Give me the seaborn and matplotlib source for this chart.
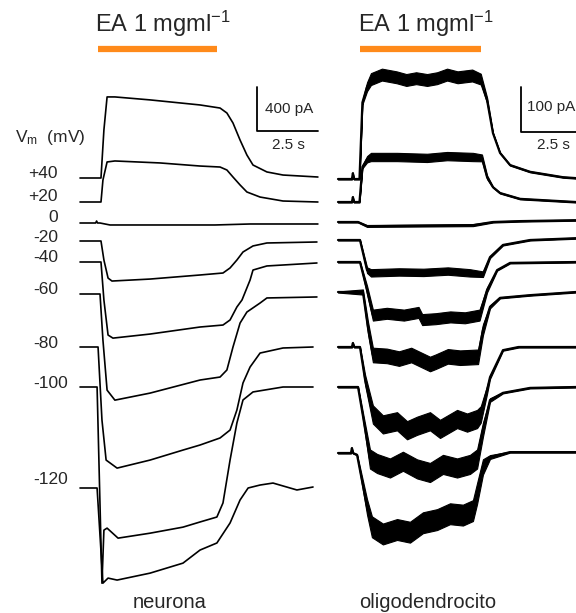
import numpy as np
import pandas as pd
import matplotlib
matplotlib.use('Agg')
import matplotlib.pyplot as plt
import seaborn as sns

# holding potentials of the step protocol
voltages = ['+40', '+20', '0', '-20', '-40', '-60', '-80', '-100', '-120']

# neurona: time (s) from trace start, current (pA) relative to holding level
n_p40_t = [0, 0.86, 0.98, 1.11, 1.43, 2.87, 4.92, 5.74, 6.02, 6.27, 6.56, 6.84, 7.09, 7.66, 8.32, 9.75]
n_p40_i = [0, 0, 437, 737, 737, 710, 664, 636, 591, 500, 345, 209, 118, 55, 27, 9]
n_p20_t = [0, 0.86, 0.94, 1.11, 1.43, 3.28, 4.92, 5.74, 6.02, 6.27, 6.56, 6.84, 7.38, 8.32, 9.75]
n_p20_i = [0, 0, 200, 364, 373, 355, 327, 318, 291, 227, 155, 91, 45, 9, 0]
n_0_t = [0, 0.64, 0.68, 0.72, 0.82, 1.23, 5.53, 6.97, 9.75]
n_0_i = [0, 0, 18, 0, 0, -18, -18, -9, -9]
n_m20_t = [0, 0.86, 0.98, 1.15, 1.31, 2.87, 4.92, 5.86, 6.15, 6.43, 6.68, 7.09, 7.66, 9.71]
n_m20_i = [0, 0, -173, -337, -364, -346, -309, -291, -245, -173, -100, -45, -18, -9]
n_m40_t = [0, 0.86, 0.98, 1.15, 1.35, 2.87, 4.92, 5.86, 6.15, 6.43, 6.64, 6.97, 7.09, 7.66, 9.71]
n_m40_i = [0, 0, -346, -664, -692, -655, -591, -573, -527, -409, -345, -164, -73, -36, -9]
n_m60_t = [0, 0.82, 0.94, 1.11, 1.43, 2.87, 4.92, 5.74, 6.02, 6.27, 6.56, 6.84, 7.38, 7.66, 9.71]
n_m60_i = [0, 0, -419, -874, -965, -901, -782, -755, -691, -482, -264, -164, -82, -36, -27]
n_m80_t = [0, 0.74, 0.90, 1.07, 1.52, 2.87, 4.22, 4.92, 5.74, 6.15, 6.43, 6.68, 6.97, 7.38, 8.32, 9.55]
n_m80_i = [0, 0, -664, -1028, -1101, -1028, -937, -891, -827, -755, -573, -327, -182, -55, -9, 0]
n_m100_t = [0, 0.70, 0.90, 0.98, 1.11, 1.56, 2.87, 4.22, 4.92, 5.61, 5.86, 6.15, 6.43, 6.68, 7.09, 8.32, 9.55]
n_m100_i = [0, 0, -1784, -1301, -1283, -1374, -1329, -1274, -1227, -1182, -1054, -664, -327, -118, -45, 0, 0]
n_m120_t = [0, 0.70, 0.94, 1.15, 1.52, 2.87, 4.22, 4.92, 5.61, 6.15, 6.56, 6.89, 7.38, 7.91, 8.89, 9.55]
n_m120_i = [0, 0, -865, -819, -837, -774, -683, -564, -500, -318, -109, 0, 27, 45, -18, 9]

# oligodendrocito (mean of the noisy trace)
o_p40_t = [0, 0.57, 0.61, 0.65, 0.88, 1.0, 1.19, 1.35, 1.80, 2.40, 2.80, 3.20, 3.65,
           4.06, 4.47, 4.90, 5.50, 5.85, 6.11, 6.35, 6.64, 7.05, 7.87, 9.22, 9.75]
o_p40_i = [0, 0, 13, 0, 0, 170, 205, 222, 232, 226, 220, 224, 220,
           224, 232, 226, 230, 222, 175, 102, 58, 31, 16, 4, 2]
o_p20_t = [0, 0.57, 0.61, 0.65, 0.88, 1.0, 1.19, 1.35, 2.42, 3.65, 4.47, 5.53, 5.90, 6.11, 6.35, 6.64, 7.46, 9.75]
o_p20_i = [0, 0, 11, 0, 0, 78, 95, 100, 100, 98, 102, 100, 98, 55, 33, 20, 7, 0]
o_0_t = [0, 0.82, 1.19, 5.53, 6.35, 7.46, 9.75]
o_0_i = [0, 0, -9, -7, 0, 2, 4]
o_m20_t = [0, 0.90, 1.19, 1.35, 2.5, 3.5, 4.5, 5.4, 5.94, 6.23, 6.76, 7.87, 9.75]
o_m20_i = [0, 0, -67, -73, -71, -72, -69, -73, -76, -38, -11, 0, 4]
o_m40_t = [0, 0.90, 1.19, 1.43, 2.0, 2.7, 3.3, 3.45, 4.0, 4.6, 5.2, 5.8, 6.11, 6.52, 7.05, 9.75]
o_m40_i = [0, 0, -62, -118, -114, -118, -112, -128, -126, -122, -124, -118, -62, -18, -2, 0]
o_m60_t = [0, 1.02, 1.23, 1.43, 2.0, 2.5, 3.0, 3.77, 4.0, 4.5, 5.0, 5.74, 5.94, 6.23, 6.64, 7.87, 9.75]
o_m60_i = [0, 0, -80, -140, -142, -148, -140, -160, -155, -143, -146, -144, -84, -33, -13, -7, 0]
o_m80_t = [0, 0.57, 0.61, 0.66, 0.90, 1.11, 1.43, 1.84, 2.42, 2.83, 3.24, 3.77, 4.18, 4.88, 5.29,
           5.70, 5.85, 6.11, 6.23, 6.76, 7.4, 9.75]
o_m80_i = [0, 0, 9, 0, 0, -73, -150, -172, -165, -185, -175, -165, -182, -160, -168,
           -160, -150, -95, -67, -7, 0, 0]
o_m100_t = [0, 0.82, 1.03, 1.31, 1.60, 2.13, 2.66, 3.24, 3.77, 4.30, 4.88, 5.41, 5.70, 5.94, 6.23, 6.76, 7.87, 9.75]
o_m100_i = [0, 0, -67, -160, -170, -180, -165, -182, -190, -172, -180, -172, -160, -95, -29, -13, -2, 0]
o_m120_t = [0, 0.53, 0.57, 0.61, 0.78, 1.19, 1.39, 1.84, 2.42, 2.95, 3.48, 4.06, 4.59, 5.12, 5.53, 5.70, 5.94, 6.23, 7.05, 9.75]
o_m120_i = [0, 0, 11, 0, -4, -120, -164, -180, -170, -176, -155, -148, -135, -138, -128, -90, -31, -9, 2, 2]

# noise amplitude (pA, half band) of the oligodendrocyte traces during EA
o_noise = [12, 8, 1, 7, 11, 15, 19, 20, 22]

# EA application (s) and scale bars
ea_neuron = [0.74, 5.61]
ea_oligo = [0.90, 5.86]
scale_neuron_pa, scale_oligo_pa, scale_s = 400, 100, 2.5

neuron_t = [n_p40_t, n_p20_t, n_0_t, n_m20_t, n_m40_t, n_m60_t, n_m80_t, n_m100_t, n_m120_t]
neuron_i = [n_p40_i, n_p20_i, n_0_i, n_m20_i, n_m40_i, n_m60_i, n_m80_i, n_m100_i, n_m120_i]
oligo_t = [o_p40_t, o_p20_t, o_0_t, o_m20_t, o_m40_t, o_m60_t, o_m80_t, o_m100_t, o_m120_t]
oligo_i = [o_p40_i, o_p20_i, o_0_i, o_m20_i, o_m40_i, o_m60_i, o_m80_i, o_m100_i, o_m120_i]

# ---- layout (pixels of the 576x613 canvas) ----
W, H = 576, 613
PX_S = 24.4            # px per second
K_N = 400 / 44         # pA per px, neuron panel
K_O = 100 / 45         # pA per px, oligodendrocyte panel
neuron_base_px = [178, 202, 223, 241, 262, 294, 347, 387, 488]
oligo_base_px = [179, 202, 222, 240, 262, 292, 347, 387, 453]
label_y_px = [173, 197, 217, 237, 258, 290, 343, 383, 480]
label_x_px = [28, 28, 48, 33, 33, 33, 33, 33, 33]

sns.set_style('white')
plt.rcParams['font.family'] = ['Liberation Sans', 'DejaVu Sans']
plt.rcParams['mathtext.fontset'] = 'custom'
plt.rcParams['mathtext.rm'] = 'Liberation Sans'
plt.rcParams['mathtext.default'] = 'regular'

fig = plt.figure(figsize=(W / 100, H / 100), dpi=100)
ax_n = fig.add_axes([0, 0, 330 / W, 1])
ax_o = fig.add_axes([330 / W, 0, 246 / W, 1])
ax_n.set_xlim(-80 / PX_S, 250 / PX_S)
ax_n.set_ylim(0, H * K_N)
ax_o.set_xlim(-8 / PX_S, 238 / PX_S)
ax_o.set_ylim(0, H * K_O)


def build(times, currents, bases, k):
    rows = []
    for v, t, i, b in zip(voltages, times, currents, bases):
        for tt, ii in zip(t, i):
            rows.append({'trace': v, 't': tt, 'I': ii, 'y': (H - b) * k + ii})
    return pd.DataFrame(rows)


df_n = build(neuron_t, neuron_i, neuron_base_px, K_N)
df_o = build(oligo_t, oligo_i, oligo_base_px, K_O)

sns.lineplot(data=df_n, x='t', y='y', units='trace', estimator=None, sort=False,
             color='black', lw=1.2, ax=ax_n)

# noisy band for the oligodendrocyte recording
for v, t, i, b, nz in zip(voltages, oligo_t, oligo_i, oligo_base_px, o_noise):
    t = np.array(t)
    y = (H - b) * K_O + np.array(i)
    env = np.interp(t, [0.9, 1.3, 5.8, 6.3], [0, 1, 1, 0])
    hw = 1.2 + nz * env
    ax_o.fill_between(t, y - hw, y + hw, color='black', lw=0.8)
sns.lineplot(data=df_o, x='t', y='y', units='trace', estimator=None, sort=False,
             color='black', lw=1.6, ax=ax_o)

# EA bars
orange = '#ff8a1a'
ax_n.plot(ea_neuron, [(H - 49) * K_N] * 2, color=orange, lw=4.5, solid_capstyle='butt')
ax_o.plot(ea_oligo, [(H - 49) * K_O] * 2, color=orange, lw=4.5, solid_capstyle='butt')

# scale bars
x0 = (257 - 80) / PX_S
y0 = (H - 131) * K_N
ax_n.plot([x0, x0, x0 + scale_s], [y0 + scale_neuron_pa, y0, y0], color='black', lw=1.3)
x0 = (521 - 338) / PX_S
y0 = (H - 132) * K_O
ax_o.plot([x0, x0, x0 + scale_s], [y0 + scale_oligo_pa, y0, y0], color='black', lw=1.3,
          clip_on=False)

for ax in (ax_n, ax_o):
    ax.set_axis_off()


def ftext(x, y, s, **kw):
    fig.text(x / W, 1 - y / H, s, **kw)


ftext(95, 32, 'EA 1 mgml$^{-1}$', fontsize=17, va='baseline')
ftext(358, 32, 'EA 1 mgml$^{-1}$', fontsize=17, va='baseline')
ftext(265, 109, '%d pA' % scale_neuron_pa, fontsize=11, va='center')
ftext(272, 145, '%g s' % scale_s, fontsize=11, va='center')
ftext(527, 107, '%d pA' % scale_oligo_pa, fontsize=11, va='center')
ftext(537, 145, '%g s' % scale_s, fontsize=11, va='center')
ftext(15, 138, 'V$_{m}$  (mV)', fontsize=12.5, va='center')
for v, x, y in zip(voltages, label_x_px, label_y_px):
    ftext(x, y, v, fontsize=12.5, va='center')
ftext(170, 603, 'neurona', fontsize=14.5, va='center', ha='center')
ftext(428, 602, 'oligodendrocito', fontsize=14.5, va='center', ha='center')

fig.savefig('out.png', dpi=100)
